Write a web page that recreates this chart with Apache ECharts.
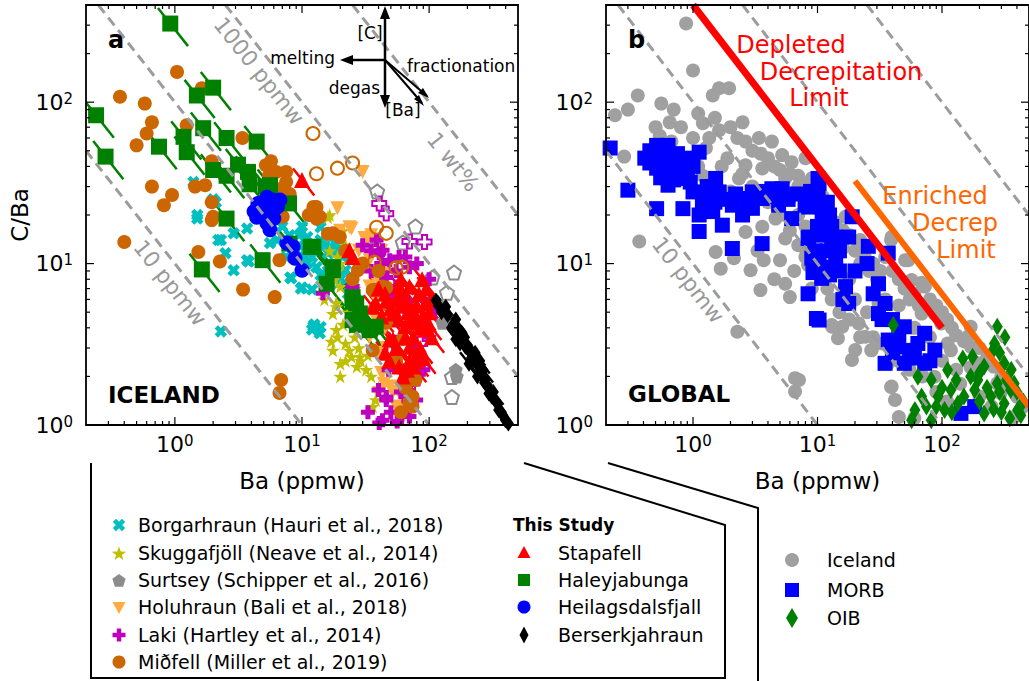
<!DOCTYPE html>
<html><head><meta charset="utf-8">
<script src="https://cdn.jsdelivr.net/npm/echarts/dist/echarts.min.js"></script>
<style>html,body{margin:0;padding:0;background:#fff}#c{width:1029px;height:681px}</style>
</head><body><div id="c"></div>
<script>
// ---------- axis extents & ticks ----------
const X_MIN = 0.2, X_MAX = 500, Y_MIN = 1, Y_MAX = 400;
const xMajor = [1, 10, 100];
const xMinor = [0.3,0.4,0.5,0.6,0.7,0.8,0.9,2,3,4,5,6,7,8,9,20,30,40,50,60,70,80,90,200,300,400];
const yMajor = [1, 10, 100];
const yMinor = [2,3,4,5,6,7,8,9,20,30,40,50,60,70,80,90,200,300];
// constant-C isopleths (ppmw) and decrepitation limits
const isoC = [10, 100, 1000, 10000];
const depletedC = 400, depletedBa = [1, 100];
const enrichedC = 650, enrichedBa = [20, 500];

// ---------- panel a data: [Ba ppmw, C/Ba] ----------
const borgarhraun = [[1.4,32],[2.1,24],[1.5,20],[1.5,19],[2.3,14],[2.5,11.6],[2.9,9.1],[3.8,10.3],[3.7,16.5],[2.3,3.8],[8.2,8.1],[9.8,7.0],[12.5,4.2],[2.0,25],[2.2,14],[2.9,15.4],[3.7,10.5],[8.1,8.2],[10,7.1],[12,6.9],[14,16.8],[13,12.7],[16,11.6],[20,14],[14,4.05],[12,3.9],[6.4,14],[5.6,13.4],[25,7.9],[11,14.6],[13.8,3.7],[12.3,4.1],[22,9.1],[24,8.3],[9,12],[10.5,11],[11.5,13],[15,13],[17,12.5],[18,10],[9.5,15],[7.5,11],[16,9],[14,8.5],[7,17],[8,15],[9.5,13],[12,11],[14,14],[16,15],[19,12],[21,11],[13,9.5],[15,8],[17,7.5],[20,8],[11,10],[23,6.5],[18,13.5],[10,17]];
const skuggafjoll = [[16.5,20],[16.5,12],[20,7.2],[18.6,5.7],[17.5,4.9],[18.6,3.9],[17.5,2.9],[20,2.4],[24.5,2.65],[29,2.5],[38,1.43],[16,19.4],[18.7,5.4],[23.6,2.9],[28.5,2.64],[22,3.2],[15,6],[19,9],[21,16],[26,3.5],[32,2.2],[20,2.0],[17,15],[19,11],[22,2.5],[18,8],[20,10],[22,13],[24,12],[26,7],[23,5],[21,4.2],[25,4],[28,3],[33,2.7],[35,2],[17,3.3],[19,3.5],[27,2.3],[40,1.7],[36,1.3]];
const surtseyOpen = [[39,28],[78,17],[62,13.5],[157,8.8],[106,8.2],[138,6.6],[151,1.98],[151,1.49]];
const surtseyFill = [[38,14],[127,4.3],[162,2.2],[148,4.5],[120,5.5],[165,2.0]];
const holuhraun = [[30,37],[19,22],[24.5,16.5],[32,13.7],[34,10.5],[36,8.5],[40,7.9],[42,2.1],[49,1.73],[55,1.3],[39.5,2.8],[34,3.5],[23.6,16.8],[31,14.4],[34,7.2],[58,1.24],[43,2.1],[20,16],[28,12],[30,5],[45,4],[38,6],[50,2.4],[35,15],[42,12],[45,9],[50,6],[38,4.5],[46,3],[52,1.6],[60,1.5],[62,1.1],[44,1.8]];
const lakiFill = [[43,12.1],[49,10.5],[58,11],[70,9.5],[43,8.7],[55,7.2],[25,7.2],[40,1.65],[46,1.43],[74,1.9],[79,1.43],[43,1.07],[70,1.13],[38.6,14],[40.5,11.6],[46,8.2],[66,5.9],[78,4.3],[46,1.49],[40.5,1.03],[14.6,6.55],[52,6.5],[60,3.5],[48,2.2],[35,9],[30,13],[35,12],[42,10],[55,9],[65,11],[80,10],[100,8],[90,6],[110,5],[100,3.5],[90,2.2],[35,4],[60,1.6],[33,1.2],[50,1.2],[56,1.05]];
const lakiOpen = [[40.5,23.6],[46,20.4],[70,13.7],[92,13.6],[49,2.8],[74,1.82],[70,1.43],[60,4.5],[85,3.2],[52,2.5]];
const midfellFill = [[1.04,154],[0.37,108],[0.58,98],[0.66,75],[0.5,54],[0.6,64],[0.66,30],[0.82,23],[0.95,26.6],[1.24,72],[1.63,122],[1.44,30],[1.73,30.6],[1.95,24],[3.4,60],[1.95,43],[5.2,40.7],[6.25,37],[7.5,37],[5.7,43],[7.5,32],[11.3,20],[2.0,19.5],[0.4,13.6],[1.95,18.6],[1.53,11.8],[2.26,10.3],[3.44,6.9],[6.1,6.2],[6.85,1.9],[6.65,1.58],[6.65,10.5],[7.05,19.5],[11.7,20],[13,22.4],[13.8,19.5],[17.5,15.4],[38.6,6.85],[46,7.1],[73,1.49],[70,1.37],[46,4.3],[78,1.9],[12.3,22.4],[13,19],[16,15.3],[19.8,14.6],[27.5,9.1],[43,7.2],[36,6.85],[36,2.9],[74,1.5],[74,1.3],[62,3.4],[5.5,35],[6.8,29],[8,27],[6,26],[22,12],[25,8],[30,10],[40,9],[48,5.5],[55,2.5],[65,1.7],[60,1.2]];
const midfellOpen = [[12.2,64],[13,36],[19,39],[25,42],[38.6,16.8],[46,15.4],[37,10.2],[55,9.4],[61,9.5]];
const stapafell = [[10,33],[23.6,12.1],[25,11],[38,5.7],[46,5.9],[58,7.2],[70,7.2],[83,6.5],[94,5.7],[65,5.9],[74,5.2],[79,4.3],[65,4.1],[94,3.9],[58,4.5],[49,3.4],[70,3.05],[58,2.3],[79,2.5],[36,5.4],[52,4.9],[48.6,2.5],[70,2.5],[76,2.3],[52,3.4],[88,8],[100,5],[62,6.5],[45,2.8],[85,3],[30,4.5],[62,2.0],[40,7],[45,6.5],[55,6],[60,5.5],[68,5],[80,5.5],[90,4.8],[100,4.2],[105,6],[72,4.5],[85,4],[95,7],[65,3.5],[55,3],[75,3.5],[82,2.8],[67,2.2],[90,2.6],[105,3.5],[50,5.3],[42,4.7],[60,8]];
const haleyjabunga = [[0.92,307],[0.24,83],[0.285,46],[1.49,110],[2.0,123],[0.75,53],[1.17,61],[1.24,49],[1.67,69],[2.55,60],[4.4,57],[2.0,38],[2.55,35],[3.14,41],[3.76,37],[3.87,31],[5.2,30],[7.9,23.6],[2.55,19],[1.63,9.2],[4.9,10.5],[7.95,13.3],[11.7,12.7],[17.5,9.1],[25,5.8],[28.5,4.9],[27,4.17],[34,3.87],[5.6,30.6],[12.3,12.7],[17.5,9.5],[15.6,7.5],[26.7,5.66],[25,4.47],[38,4.06],[25,6.2]];
const heilagsdalsfjall = [[4.5,23.6],[5,20.4],[5.9,24.8],[6.4,22.4],[5.3,17.8],[4.4,19.4],[5.6,16.2],[7.6,13.4],[8.5,12.7],[8.8,10.8],[10,9.1],[6.7,24.8],[5.3,25.8],[4.8,22],[6,19],[4.2,21],[5.5,21.5]];
const berserkjahraun = [[113,5.9],[135,5.4],[162,4.5],[182,3.7],[193,3.05],[230,2.8],[245,2.3],[277,1.9],[295,1.57],[331,1.43],[352,1.24],[398,1.07],[206,2.4],[162,3.4],[125,5],[150,4],[215,2.6],[260,2.1],[310,1.5],[380,1.15],[175,3.2],[240,2.0],[118,5.5],[140,4.8],[155,4.2],[170,3.8],[200,3],[220,2.5],[265,2.2],[285,1.75],[320,1.6],[345,1.35],[370,1.2],[420,1.02],[190,3.5],[250,2.5]];

// ---------- panel b data ----------
const iceland = [[0.88,307],[1.0,157],[0.36,110],[0.556,98],[0.236,83],[1.44,110],[1.62,122],[1.95,122],[0.65,75],[1.2,74],[1.62,67],[1.35,60],[2.27,60],[2.64,57],[3.38,60],[4.3,57],[0.54,62],[0.67,57],[0.28,46],[1.27,52],[1.89,45],[2.64,40.7],[3.6,38.8],[5.2,47],[6.2,42.5],[7.0,35],[5.5,33.7],[2.34,33.7],[0.37,13.7],[1.52,11.8],[1.67,9.3],[2.13,10.8],[2.9,9.1],[3.48,6.85],[3.7,10.5],[3.6,16.9],[2.64,15.7],[6.0,6.2],[5.0,10.5],[5.5,14.3],[4.6,19],[2.27,3.78],[6.6,1.95],[6.6,1.61],[9.5,9.3],[8.4,9.8],[13,4.16],[14.6,3.45],[8.0,45],[9.0,33.7],[7.57,31.4],[8.1,12.1],[16.8,19.5],[16.8,6.85],[15.8,4.06],[13.1,4.06],[21.4,4.26],[24.2,3.52],[20.1,2.91],[27.3,2.91],[37,2.41],[39.4,1.73],[41.9,1.43],[30.9,5.66],[39.4,14.6],[53.6,10.5],[57,7.9],[72.8,7.2],[68.6,4.9],[87,4.9],[98.6,4.26],[111,3.2],[171,3.05],[194,2.41],[87,1.99],[278,1.81],[7.1,1.9],[39,1.72],[45,1.12],[68.6,7.6],[118,2.9],[170,4.06],[170,2.28],[295,1.58],[380,1.12],[27,2.9],[18.9,2.53],[50.6,10.5],[39,14],[6,25],[7,20],[8,17],[10,15],[12,12],[11,8],[14,10],[18,8],[20,6],[25,5],[13,6],[9,7],[16,12.5],[22,10],[30,8],[35,6],[45,5.5],[60,4],[80,3.5],[100,2.5],[130,2.2],[140,1.8],[200,1.5],[250,1.3],[4,28],[3,22],[2,28],[1.1,40],[0.8,45],[0.45,50],[0.3,90],[0.5,70],[0.7,90],[1.1,85],[1.5,80],[2,70],[2.5,75],[3,50],[3.5,48],[4,45],[4.5,40],[5,38],[6,36],[7,30],[8,28],[9,25],[10,22],[11,26],[12,20],[13,16],[14,18],[15,14],[16,16],[18,15],[20,12],[22,14],[24,11],[26,9],[28,10],[32,9],[35,11],[40,9],[45,8],[50,7],[55,6],[60,6.5],[65,5.5],[75,5.5],[80,6],[90,5.5],[100,5],[110,4.5],[120,4],[130,3.6],[150,3.3],[160,3.5],[200,3],[230,2.6],[260,2.3],[300,2],[350,1.8],[400,1.5],[450,1.3],[12,7],[15,5],[18,4.5],[22,3.5],[28,3.5],[33,3.2],[45,2.5],[55,2.2],[70,2],[90,1.6],[110,1.4],[60,1.1],[8,11],[7,13],[6,16],[5,20],[4,24],[3,30],[2.5,36],[1.7,40],[1.2,35],[1.0,60],[0.8,70],[4.5,8],[3.3,12],[5.5,7.5],[6.5,9]];
const morb = [[0.216,52],[0.3,28.5],[0.51,21.9],[0.41,45],[0.51,54],[0.63,54],[0.51,39],[0.69,45],[0.83,42.5],[1.12,49],[0.63,30.6],[0.83,33.7],[0.83,21.9],[1.0,27.8],[1.19,24],[1.52,33.7],[1.62,27.8],[1.12,20],[1.12,15.8],[1.44,21],[1.72,17.3],[2.07,23],[2.07,12.4],[2.49,25.3],[2.99,27.8],[3.59,25.3],[3.59,13.3],[4.3,29.1],[5.2,29.1],[4.87,23],[6.2,19],[7.95,23],[10.1,33.7],[10.1,27.8],[8.4,14.3],[9.0,10.8],[11.5,19],[8.4,6.5],[9.8,4.57],[10.8,8.1],[10.3,31.4],[8.5,22.4],[10.9,19.5],[8.5,14.6],[14,14.6],[17.8,14.6],[19,19.5],[10.3,10],[14,10],[16.8,7.2],[10.3,4.47],[17.8,5.66],[25.6,12.8],[37,11.6],[30.9,7.5],[34.9,5.66],[30.9,4.9],[37,3.36],[44.6,3.05],[49.8,4.06],[64,3.2],[72.6,3.7],[87.6,2.91],[34.9,2.41],[49.8,2.41],[72.6,2.41],[142,1.18],[183,1.3],[0.7,38],[0.9,36],[1.3,30],[0.6,48],[0.45,42],[1.5,24],[2.5,20],[3,22],[12,24],[13,17],[12,12],[0.45,50],[0.55,45],[0.6,38],[0.75,48],[0.9,45],[1.0,40],[0.95,32],[0.7,33],[0.55,34],[1.3,26],[1.4,30],[1.8,25],[2.2,27],[2.7,24],[3.3,26],[3.9,28],[4.6,26],[5.8,25],[6.8,27],[8.8,28],[9.5,25],[11,22],[12.5,20],[10,17],[11,15],[13,13],[9.5,12],[15,12],[11.5,9.5],[12.5,8.5],[9.2,8.8],[15,9],[16,6],[20,9],[25,10],[28,6.5],[33,4.5],[40,4.5],[45,3.6],[55,2.9],[40,2.8],[60,2.6],[80,2.5]];
const oib = [[40.6,4.16],[147,2.58],[176,2.65],[111,2.19],[82,1.9],[64,1.99],[278,4.06],[264,3.2],[218,2.3],[316,2.41],[194,1.9],[278,1.81],[356,1.65],[118,1.65],[93,1.5],[68.6,1.5],[60.6,1.24],[105,1.24],[134,1.36],[183,1.65],[247,1.5],[316,1.36],[405,1.24],[218,1.18],[57,1.07],[82,1.07],[380,1.81],[300,1.2],[350,1.1],[250,2.8],[450,1.4],[90,1.3],[120,1.2],[150,1.5],[170,2],[200,1.4],[230,1.7],[260,1.25],[290,1.6],[330,1.9],[360,2.2],[400,1.6],[430,1.15],[130,1.9],[100,1.7],[75,1.3],[290,2.8],[320,3.5],[200,2.1]];

// ---------- symbols ----------
const PLUS = 'path://M32,0L68,0L68,32L100,32L100,68L68,68L68,100L32,100L32,68L0,68L0,32L32,32Z';
const STAR = 'path://M50,0L61.17,34.63L97.55,34.55L68.07,55.87L79.39,90.45L50,69L20.61,90.45L31.93,55.87L2.45,34.55L38.83,34.63Z';
const PENT = 'path://M50,0L97.55,34.55L79.39,90.45L20.61,90.45L2.45,34.55Z';
const FONT = 'DejaVu Sans';
const C = {cyan:'#00bfbf', yel:'#bfbf00', gray:'#8c8c8c', holu:'#ffab40', mag:'#c000c0', brown:'#cc6600', red:'#ff0000', green:'#008000', blue:'#0000ff', lgray:'#a0a0a0', orange:'#ff6600'};

const chart = echarts.init(document.getElementById('c'), null, {renderer:'svg'});

function axisLabelFmt(v){ const e=Math.log10(v), r=Math.round(e); if(Math.abs(e-r)>1e-6) return ''; return '{b|10}{e|'+r+'}'; }
const rich = {b:{fontSize:22,fontFamily:FONT,color:'#000'}, e:{fontSize:15,fontFamily:FONT,color:'#000',verticalAlign:'top'}};
function xAx(gi, withName){ return {type:'log', logBase:10, gridIndex:gi, min:X_MIN, max:X_MAX,
  axisLine:{show:false}, axisTick:{show:false}, splitLine:{show:false}, minorTick:{show:false},
  axisLabel:{formatter:axisLabelFmt, rich, margin:8, showMinLabel:false, showMaxLabel:false},
  name: withName?'Ba (ppmw)':'', nameLocation:'middle', nameGap:44, nameTextStyle:{fontSize:23,fontFamily:FONT,color:'#000'}}; }
function yAx(gi, name){ return {type:'log', logBase:10, gridIndex:gi, min:Y_MIN, max:Y_MAX,
  axisLine:{show:false}, axisTick:{show:false}, splitLine:{show:false},
  axisLabel:{formatter:axisLabelFmt, rich, margin:13, showMinLabel:true, showMaxLabel:false},
  name: name||'', nameLocation:'middle', nameGap:46, nameTextStyle:{fontSize:23,fontFamily:FONT,color:'#000'}}; }

function frameSeries(gi){
  return {type:'custom', xAxisIndex:gi, yAxisIndex:gi, data:[[1,10]], z:30, silent:true, clip:false,
    renderItem(params, api){
      const cs=params.coordSys, L=cs.x, T=cs.y, R=cs.x+cs.width, B=cs.y+cs.height, ch=[];
      const seg=(x1,y1,x2,y2)=>ch.push({type:'line',shape:{x1,y1,x2,y2},style:{stroke:'#000',lineWidth:1.2}});
      xMajor.forEach(v=>{const x=api.coord([v,10])[0]; seg(x,B,x,B-8); seg(x,T,x,T+8);});
      xMinor.forEach(v=>{const x=api.coord([v,10])[0]; seg(x,B,x,B-4); seg(x,T,x,T+4);});
      yMajor.forEach(v=>{const y=api.coord([1,v])[1]; seg(L,y,L+8,y); seg(R,y,R-8,y);});
      yMinor.forEach(v=>{const y=api.coord([1,v])[1]; seg(L,y,L+4,y); seg(R,y,R-4,y);});
      ch.push({type:'rect',shape:{x:L,y:T,width:cs.width,height:cs.height},style:{fill:'none',stroke:'#000',lineWidth:1.8}});
      return {type:'group',children:ch};
    }};
}
function errSeries(gi, data, color, lo, hi){
  return {type:'custom', xAxisIndex:gi, yAxisIndex:gi, data, silent:true, clip:true,
    renderItem(params, api){
      const b=api.value(0), r=api.value(1);
      const p1=api.coord([b*lo, r/lo]), p2=api.coord([b*hi, r/hi]);
      return {type:'line',shape:{x1:p1[0],y1:p1[1],x2:p2[0],y2:p2[1]},style:{stroke:color,lineWidth:2.5}};
    }};
}
function sc(gi, name, data, symbol, size, color, extra){
  const s = {type:'scatter', name, xAxisIndex:gi, yAxisIndex:gi, data, symbol, symbolSize:size, silent:true,
    itemStyle:{color, opacity:1}};
  return Object.assign(s, extra||{});
}
function hollow(gi, name, data, symbol, size, color, extra){
  return Object.assign({type:'scatter', name, xAxisIndex:gi, yAxisIndex:gi, data, symbol, symbolSize:size, silent:true,
    itemStyle:{color:'transparent', borderColor:color, borderWidth:2, opacity:1}}, extra||{});
}
function cLine(gi, Cv, xr, color, width, dash, z){
  const a=Math.max(xr[0], Cv/Y_MAX), b=Math.min(xr[1], Cv/Y_MIN);
  return {type:'line', xAxisIndex:gi, yAxisIndex:gi, data:[[a,Cv/a],[b,Cv/b]], symbol:'none', silent:true, clip:true, z,
    lineStyle:{color, width, type:dash||'solid'}};
}

const series = [];
[0,1].forEach(gi=>{ isoC.forEach(Cv=>series.push(cLine(gi, Cv, [X_MIN,X_MAX], '#9c9c9c', 3, [10,6], 8))); });
// panel a
series.push(sc(0,'Borgarhraun (Hauri et al., 2018)',borgarhraun,PLUS,13,C.cyan,{symbolRotate:45}));
series.push(sc(0,'Skuggafjöll (Neave et al., 2014)',skuggafjoll,STAR,14,C.yel));
series.push(hollow(0,'Surtsey open',surtseyOpen,PENT,14,C.gray));
series.push(sc(0,'Surtsey (Schipper et al., 2016)',surtseyFill,PENT,14,C.gray));
series.push(sc(0,'Holuhraun (Bali et al., 2018)',holuhraun,'triangle',14,C.holu,{symbolRotate:180}));
series.push(sc(0,'Laki (Hartley et al., 2014)',lakiFill,PLUS,14,C.mag));
series.push(hollow(0,'Laki open',lakiOpen,PLUS,14,C.mag));
series.push(sc(0,'Miðfell (Miller et al., 2019)',midfellFill,'circle',14,C.brown));
series.push(hollow(0,'Miðfell open',midfellOpen,'circle',13,C.brown));
series.push(errSeries(0,stapafell,C.red,0.85,1.25));
series.push(sc(0,'Stapafell',stapafell,'triangle',16,C.red));
series.push(errSeries(0,haleyjabunga,C.green,0.8,1.38));
series.push(sc(0,'Haleyjabunga',haleyjabunga,'rect',16,C.green));
series.push(sc(0,'Heilagsdalsfjall',heilagsdalsfjall,'circle',15,C.blue));
series.push(errSeries(0,berserkjahraun,'#000',0.85,1.2));
series.push(sc(0,'Berserkjahraun',berserkjahraun,'diamond',[11,16],'#000'));
series.push(frameSeries(0));
// panel b
series.push(sc(1,'Iceland',iceland,'circle',14,C.lgray));
series.push(sc(1,'MORB',morb,'rect',15,C.blue));
series.push(sc(1,'OIB',oib,'diamond',[11,18],C.green));
series.push(cLine(1, depletedC, depletedBa, C.red, 7, 'solid', 12));
series.push(cLine(1, enrichedC, enrichedBa, C.orange, 6, 'solid', 12));
series.push(frameSeries(1));

// ---------- graphic annotations & legends ----------
function txt(text,x,y,o){ o=o||{}; return {type:'text', x, y, rotation:o.rot||0, z:100, silent:true,
  style:{text, x:0, y:0, fill:o.color||'#000', fontSize:o.size||18, fontFamily:FONT, fontWeight:o.bold?'bold':'normal',
  textAlign:o.align||'left', align:o.align||'left', textVerticalAlign:'middle', verticalAlign:'middle'}}; }
function poly(points, fill, stroke){ return {type:'polygon', z:100, silent:true, shape:{points}, style:{fill, stroke:stroke||null, lineWidth:stroke?2:0}}; }
function line(pts, w){ return {type:'polyline', z:100, silent:true, shape:{points:pts}, style:{stroke:'#000', lineWidth:w||2, fill:'none'}}; }
function plusPts(cx,cy,s,t,rot){ const h=s/2,a=s*t/2; let p=[[-a,-h],[a,-h],[a,-a],[h,-a],[h,a],[a,a],[a,h],[-a,h],[-a,a],[-h,a],[-h,-a],[-a,-a]];
  const c=Math.cos(rot||0), sn=Math.sin(rot||0); return p.map(q=>[cx+q[0]*c-q[1]*sn, cy+q[0]*sn+q[1]*c]); }
function ngon(cx,cy,r,rin,n){ const p=[]; for(let i=0;i<n;i++){ const a=-Math.PI/2+i*2*Math.PI/n; p.push([cx+r*Math.cos(a),cy+r*Math.sin(a)]);
  if(rin){ const b=a+Math.PI/n; p.push([cx+rin*Math.cos(b),cy+rin*Math.sin(b)]);} } return p; }
const circ=(cx,cy,r,fill)=>({type:'circle', z:100, silent:true, shape:{cx,cy,r}, style:{fill}});
const rect=(cx,cy,s,fill)=>({type:'rect', z:100, silent:true, shape:{x:cx-s/2,y:cy-s/2,width:s,height:s}, style:{fill}});
const diam=(cx,cy,w,h,fill)=>poly([[cx,cy-h/2],[cx+w/2,cy],[cx,cy+h/2],[cx-w/2,cy]],fill);

const g = [];
// panel labels
g.push(txt('a',108,40,{bold:true,size:24}));
g.push(txt('b',628,40,{bold:true,size:24}));
g.push(txt('ICELAND',108,395,{bold:true,size:23}));
g.push(txt('GLOBAL',628,394,{bold:true,size:23}));
// isopleth labels
const ang=-0.90, angB=-0.91;
g.push(txt('1000 ppmw',259,71,{rot:ang,size:22,color:'#999',align:'center'}));
g.push(txt('1 wt%',453,162,{rot:ang,size:22,color:'#999',align:'center'}));
g.push(txt('10 ppmw',170,283,{rot:ang,size:22,color:'#999',align:'center'}));
g.push(txt('10 ppmw',688,280,{rot:angB,size:22,color:'#999',align:'center'}));
// limit labels
g.push(txt('Depleted',791,45,{size:24,color:C.red,align:'center'}));
g.push(txt('Decrepitation',841,72,{size:24,color:C.red,align:'center'}));
g.push(txt('Limit',819,98,{size:24,color:C.red,align:'center'}));
g.push(txt('Enriched',935,196,{size:24,color:C.orange,align:'center'}));
g.push(txt('Decrep',955,223,{size:24,color:C.orange,align:'center'}));
g.push(txt('Limit',966,250,{size:24,color:C.orange,align:'center'}));
// process arrows
g.push(line([[385,60],[385,16]],2.5)); g.push(poly([[385,6],[380,19],[390,19]],'#000'));
g.push(line([[385,60],[385,98]],2.5)); g.push(poly([[385,108],[380,95],[390,95]],'#000'));
g.push(line([[385,60],[350,60]],2.5)); g.push(poly([[340,60],[353,55],[353,65]],'#000'));
g.push(line([[385,60],[427,96]],2)); g.push(poly([[429,98],[418,93],[423,88]],'#000'));
g.push(line([[385,60],[422,103]],2)); g.push(poly([[424,106],[414,99],[419,95]],'#000'));
g.push(txt('[C]',370,33,{size:17,align:'center'}));
g.push(txt('melting',335,58,{size:17,align:'right'}));
g.push(txt('degas',380,88,{size:17,align:'right'}));
g.push(txt('[Ba]',403,110,{size:17,align:'center'}));
g.push(txt('fractionation',407,66,{size:17}));
// legend outlines
g.push(line([[91,463],[91,678],[725,678],[725,525],[524,463]],2));
g.push(line([[608,463],[758,508],[758,690]],2));
// legend group 1
const L1x=119, L1t=138, rows1=[525,553,580,607,635,662];
const names1=['Borgarhraun (Hauri et al., 2018)','Skuggafjöll (Neave et al., 2014)','Surtsey (Schipper et al., 2016)','Holuhraun (Bali et al., 2018)','Laki (Hartley et al., 2014)','Miðfell (Miller et al., 2019)'];
g.push(poly(plusPts(L1x,rows1[0],13,0.34,Math.PI/4),C.cyan));
g.push(poly(ngon(L1x,rows1[1]+1,7.5,3,5),C.yel));
g.push(poly(ngon(L1x,rows1[2]+1,7,0,5),C.gray));
g.push(poly([[L1x-6.5,rows1[3]-5],[L1x+6.5,rows1[3]-5],[L1x,rows1[3]+7]],C.holu));
g.push(poly(plusPts(L1x,rows1[4],13,0.34,0),C.mag));
g.push(circ(L1x,rows1[5],6.5,C.brown));
names1.forEach((n,i)=>g.push(txt(n,L1t,rows1[i],{size:19})));
// legend group 2
g.push(txt('This Study',513,525,{bold:true,size:17}));
const L2x=524, L2t=558, rows2=[553,580,607,635];
g.push(poly([[L2x,rows2[0]-7],[L2x+6.5,rows2[0]+5],[L2x-6.5,rows2[0]+5]],C.red));
g.push(rect(L2x,rows2[1],12,C.green));
g.push(circ(L2x,rows2[2],6.5,C.blue));
g.push(diam(L2x,rows2[3],9,17,'#000'));
['Stapafell','Haleyjabunga','Heilagsdalsfjall','Berserkjahraun'].forEach((n,i)=>g.push(txt(n,L2t,rows2[i],{size:19})));
// legend group 3
const L3x=792, L3t=827, rows3=[560,590,618];
g.push(circ(L3x,rows3[0],7,C.lgray));
g.push(rect(L3x,rows3[1],14,C.blue));
g.push(diam(L3x,rows3[2],12,20,C.green));
['Iceland','MORB','OIB'].forEach((n,i)=>g.push(txt(n,L3t,rows3[i],{size:19})));

chart.setOption({
  animation:false, backgroundColor:'#fff',
  grid:[{left:86,top:5,width:432,height:420},{left:606,top:5,width:427,height:420}],
  xAxis:[xAx(0,true), xAx(1,true)],
  yAxis:[yAx(0,'C/Ba'), yAx(1,'')],
  series, graphic:g
});
</script></body></html>
